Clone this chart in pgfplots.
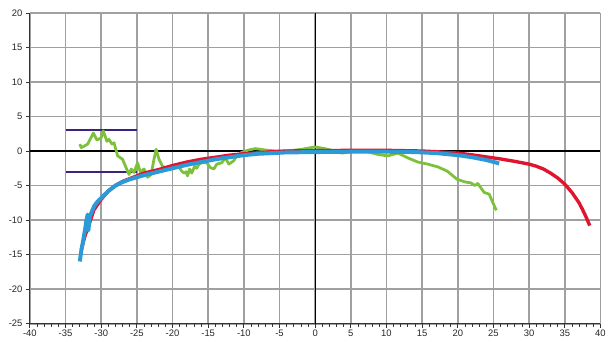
\documentclass[border=0pt]{standalone}
\usepackage{fontspec}
\setmainfont{Liberation Sans}
\usepackage{pgfplots}
\pgfplotsset{compat=1.18}
\definecolor{cred}{HTML}{E0142F}
\definecolor{cblue}{HTML}{2C9AD6}
\definecolor{cgreen}{HTML}{7DC13A}
\definecolor{cpurple}{HTML}{3A2280}
\definecolor{cgrid}{HTML}{A0A0A0}
\begin{document}
\begin{tikzpicture}
\begin{axis}[
  scale only axis, width=573bp, height=312bp,
  xmin=-40, xmax=40, ymin=-25, ymax=20,
  xtick={-40,-35,...,40}, ytick={-25,-20,...,20},
  minor x tick num=4,
  axis x line*=bottom, axis y line*=left,
  axis line style={black!80, line width=1pt, -},
  tick align=outside,
  major tick length=4bp, minor tick length=3bp,
  tick style={black!80, line width=0.8pt},
  ymajorgrids, xmajorgrids,
  major grid style={cgrid, line width=1.8pt},
  tick label style={font=\fontsize{9.5}{11}\selectfont, text=black!85},
  xticklabel style={yshift=1bp},
  /pgf/number format/assume math mode=true,
  clip=false,
]
\path (rel axis cs:0,0) ++(-30bp,-18bp) (rel axis cs:1,1) ++(6bp,13bp);
\draw[black, line width=1.2pt] (axis cs:-40,0) -- (axis cs:40,0);
\draw[black, line width=1.2pt] (axis cs:0,-25) -- (axis cs:0,20);
% purple limits
\addplot[cpurple, line width=2.3pt] coordinates {(-35,3) (-25,3)};
\addplot[cpurple, line width=2.3pt] coordinates {(-35,-3) (-25,-3)};
% green
\addplot[cgreen, line width=2.8pt, line join=round] coordinates {
(-33,1.0) (-32.8,0.5) (-32.4,0.7) (-31.9,1.0) (-31.5,1.8) (-31.1,2.6) (-30.6,1.6) (-30.0,1.9) (-29.7,2.9) (-29.2,1.4) (-28.9,1.7) (-28.5,1.0) (-28.2,1.2) (-27.7,-0.7) (-27.0,-1.2) (-26.6,-2.2) (-26.1,-3.4) (-25.8,-2.6) (-25.4,-3.1) (-24.9,-1.7) (-24.5,-3.1) (-24.0,-2.6) (-23.5,-3.8) (-23.0,-3.4) (-22.6,-1.2) (-22.3,0.25) (-21.9,-1.2) (-21.4,-2.2) (-20.7,-2.6) (-20.3,-2.4) (-20.0,-2.6) (-19.5,-1.9) (-19.1,-2.2) (-18.8,-2.8) (-18.4,-3.2) (-18.1,-3.0) (-17.9,-3.6) (-17.6,-2.6) (-17.3,-3.2) (-16.9,-2.2) (-16.6,-2.5) (-16.3,-1.9) (-15.9,-1.7) (-15.2,-1.7) (-14.7,-2.4) (-14.2,-2.6) (-13.8,-1.9) (-13.1,-1.7) (-12.6,-1.0) (-12.1,-1.9) (-11.4,-1.4) (-11.0,-0.7) (-10.3,-0.2) (-9.3,0.15) (-8.4,0.35) (-7.0,0.15) (-5.6,0) (-4,0) (-1.9,0.25) (0,0.6) (1.8,0.25) (3.7,-0.3) (4.6,-0.2) (6.5,0.1) (7.4,-0.1) (8.8,-0.5) (10.2,-0.7) (11.6,-0.3) (13,-1.0) (14.4,-1.6) (15.8,-1.9) (17.2,-2.3) (18.5,-2.9) (19.9,-4.1) (21.1,-4.5) (21.8,-4.6) (22.4,-5.0) (22.8,-4.7) (23.7,-6.0) (24.4,-6.25) (24.8,-7.2) (25.4,-8.6)
};
% red
\addplot[cred, line width=3.4pt, line join=round] coordinates {
(-32.8,-14.3) (-32.3,-12.4) (-31.8,-10.9) (-31,-8.5) (-30,-7) (-29,-5.8) (-28,-5) (-27,-4.4) (-26,-4) (-25,-3.6) (-24,-3.2) (-22,-2.7) (-20,-2.1) (-18,-1.6) (-16,-1.2) (-14,-0.9) (-12,-0.6) (-10,-0.4) (-8,-0.25) (-6,-0.1) (-4,0) (0,0.05) (5,0.1) (10,0.1) (15,0) (17,-0.1) (20,-0.3) (22,-0.55) (24,-0.85) (26,-1.15) (28,-1.5) (30,-1.9) (31,-2.2) (32,-2.6) (33,-3.2) (34,-3.9) (35,-4.8) (36,-6) (37,-7.5) (37.5,-8.5) (38,-9.6) (38.5,-10.8)
};
% blue
\addplot[cblue, line width=4pt, line join=round] coordinates {
(-33,-16) (-32.8,-14.5) (-32.5,-12.8) (-32.2,-11) (-32.1,-10.2) (-31.9,-9.2) (-31.8,-11.5) (-31.6,-9.5) (-31,-8) (-30.5,-7.3) (-30,-6.8) (-29.5,-6.3) (-29,-5.8) (-28,-5) (-27,-4.5) (-26,-4.1) (-25,-3.8) (-24,-3.5) (-22,-3) (-20,-2.5) (-18,-2) (-16,-1.6) (-14,-1.2) (-12,-0.9) (-10,-0.6) (-8,-0.4) (-6,-0.3) (-4,-0.2) (0,-0.15) (5,-0.1) (10,-0.1) (14,-0.15) (17,-0.3) (20,-0.6) (22,-0.9) (24,-1.3) (25.8,-1.8)
};
\end{axis}
\end{tikzpicture}
\end{document}
